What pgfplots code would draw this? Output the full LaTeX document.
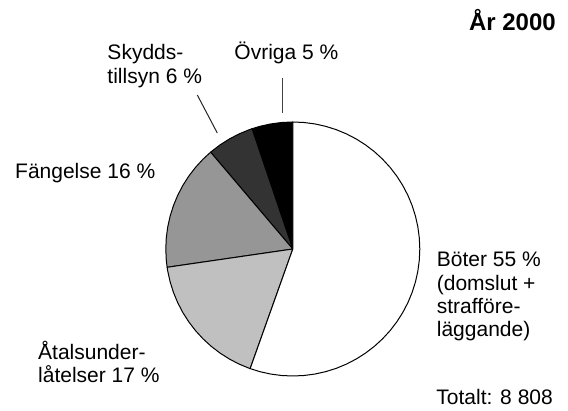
\documentclass[border=0pt]{standalone}
\usepackage{pgfplots}
\pgfplotsset{compat=1.18}
\usepgfplotslibrary{polar}
\usepackage{fontspec}
\setmainfont{Liberation Sans}
\definecolor{atal}{RGB}{192,192,192}
\definecolor{fang}{RGB}{150,150,150}
\definecolor{skydd}{RGB}{51,51,51}
\begin{document}
\begin{tikzpicture}[x=1pt,y=1pt]
\path[use as bounding box] (-292.8,-162) rectangle (275.2,249);
% Shares (%): Böter 55.45, Åtalsunderlåtelser 17.25, Fängelse 16.1, Skyddstillsyn 6.0, Övriga 5.2
% Wedges drawn counterclockwise from 90 deg (angle, radius)
\begin{polaraxis}[at={(0pt,0pt)}, anchor=origin, width=254pt, height=254pt,
  scale only axis, hide axis, xmin=0, xmax=360, ymin=0, ymax=1, clip=false]
\addplot[draw=black, line width=1pt, line join=round, fill=black, mark=none] coordinates
 {(0,0) (90,1) (95,1) (100,1) (105,1) (108.72,1)} -- cycle;
\addplot[draw=black, line width=1pt, line join=round, fill=skydd, mark=none] coordinates
 {(0,0) (108.72,1) (110,1) (115,1) (120,1) (125,1) (130,1) (130.32,1)} -- cycle;
\addplot[draw=black, line width=1pt, line join=round, fill=fang, mark=none] coordinates
 {(0,0) (130.32,1) (135,1) (140,1) (145,1) (150,1) (155,1) (160,1) (165,1) (170,1) (175,1) (180,1) (185,1) (188.28,1)} -- cycle;
\addplot[draw=black, line width=1pt, line join=round, fill=atal, mark=none] coordinates
 {(0,0) (188.28,1) (190,1) (195,1) (200,1) (205,1) (210,1) (215,1) (220,1) (225,1) (230,1) (235,1) (240,1) (245,1) (250,1) (250.38,1)} -- cycle;
\addplot[draw=black, line width=1pt, line join=round, fill=white, mark=none] coordinates
 {(0,0) (250.38,1) (255,1) (260,1) (265,1) (270,1) (275,1) (280,1) (285,1) (290,1) (295,1) (300,1) (305,1) (310,1) (315,1) (320,1) (325,1) (330,1) (335,1) (340,1) (345,1) (350,1) (355,1) (360,1) (365,1) (370,1) (375,1) (380,1) (385,1) (390,1) (395,1) (400,1) (405,1) (410,1) (415,1) (420,1) (425,1) (430,1) (435,1) (440,1) (445,1) (450,1)} -- cycle;
\end{polaraxis}
% leader lines
\draw[line width=1pt, black!75] (-10.1,170.7) -- (-10.1,135.7);
\draw[line width=1pt, black!85] (-95.5,154) -- (-75.5,116);
% labels
\begin{scope}[every node/.style={inner sep=0pt, font=\fontsize{21}{24}\selectfont}]
\node[anchor=base east, font=\fontsize{24}{28}\selectfont\bfseries] at (263.2,218.3) {År 2000};
\node[anchor=base west] at (-185.5,189.7) {Skydds-};
\node[anchor=base west] at (-185.5,165.7) {tillsyn 6 \%};
\node[anchor=base west] at (-58.5,189.7) {Övriga 5 \%};
\node[anchor=base west] at (-277.8,70.7) {Fängelse 16 \%};
\node[anchor=base west] at (143.9,-17.7) {Böter 55 \%};
\node[anchor=base west] at (143.9,-41.1) {(domslut +};
\node[anchor=base west] at (143.9,-64.5) {strafföre-};
\node[anchor=base west] at (143.9,-87.9) {läggande)};
\node[anchor=base west] at (-254.8,-110.5) {Åtalsunder-};
\node[anchor=base west] at (-254.8,-134) {låtelser 17 \%};
\node[anchor=base east] at (260.2,-155.5) {Totalt: 8 808};
\end{scope}
\end{tikzpicture}
\end{document}
